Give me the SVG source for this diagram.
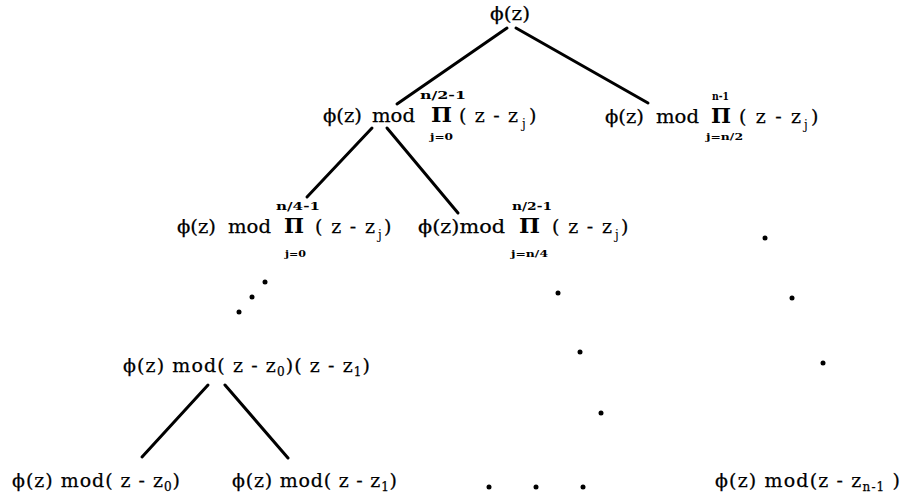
<svg xmlns="http://www.w3.org/2000/svg" width="909" height="500" viewBox="0 0 909 500">
<style>
text{font-family:"DejaVu Serif","Liberation Serif",serif;fill:#000}
.t{font-size:19px;stroke:#000;stroke-width:0.25}
.sup{font-size:11px;font-weight:bold}
.lo{font-size:9.5px;font-weight:bold}
.pi{font-size:21px;font-weight:bold}
.sb{font-size:12px}
.edge{stroke:#000;stroke-width:3;stroke-linecap:round;fill:none}
.dot{fill:#000}
</style>
<rect width="909" height="500" fill="#fff"/>
<g id="connectors">
<line class="edge" x1="507" y1="28" x2="397" y2="104"/>
<line class="edge" x1="516" y1="28" x2="648" y2="103"/>
<line class="edge" x1="372" y1="128" x2="307" y2="197"/>
<line class="edge" x1="387" y1="128" x2="458" y2="213"/>
<line class="edge" x1="208" y1="385" x2="142" y2="457"/>
<line class="edge" x1="225" y1="385" x2="288" y2="458"/>
</g>
<g id="root"><text class="t" x="490" y="20" textLength="40" lengthAdjust="spacingAndGlyphs">ϕ(z)</text></g>
<g id="n1left">
<text class="t" x="323" y="122" textLength="39" lengthAdjust="spacingAndGlyphs">ϕ(z)</text>
<text class="t" x="372" y="122" textLength="43" lengthAdjust="spacingAndGlyphs">mod</text>
<text class="pi" x="431" y="122" textLength="21" lengthAdjust="spacingAndGlyphs">Π</text>
<text class="sup" x="420" y="99" textLength="46" lengthAdjust="spacingAndGlyphs">n/2-1</text>
<text class="lo" x="430" y="140" textLength="23" lengthAdjust="spacingAndGlyphs">j=0</text>
<text class="t" x="459" y="122" textLength="59" lengthAdjust="spacing">( z - z</text>
<text class="sb" x="522" y="128">j</text>
<text class="t" x="529" y="122">)</text>
</g>
<g id="n1right">
<text class="t" x="605" y="123" textLength="39" lengthAdjust="spacingAndGlyphs">ϕ(z)</text>
<text class="t" x="656" y="123" textLength="43" lengthAdjust="spacingAndGlyphs">mod</text>
<text class="pi" x="711" y="123" textLength="20" lengthAdjust="spacingAndGlyphs">Π</text>
<text class="sup" x="712" y="100" textLength="17" lengthAdjust="spacingAndGlyphs">n-1</text>
<text class="lo" x="706" y="140" textLength="37" lengthAdjust="spacingAndGlyphs">j=n/2</text>
<text class="t" x="739" y="123" textLength="62" lengthAdjust="spacing">( z - z</text>
<text class="sb" x="804" y="129">j</text>
<text class="t" x="811" y="123">)</text>
</g>
<g id="n2left">
<text class="t" x="177" y="233" textLength="39" lengthAdjust="spacingAndGlyphs">ϕ(z)</text>
<text class="t" x="228" y="233" textLength="43" lengthAdjust="spacingAndGlyphs">mod</text>
<text class="pi" x="284" y="233" textLength="20" lengthAdjust="spacingAndGlyphs">Π</text>
<text class="sup" x="276" y="210" textLength="44" lengthAdjust="spacingAndGlyphs">n/4-1</text>
<text class="lo" x="285" y="257" textLength="21" lengthAdjust="spacingAndGlyphs">j=0</text>
<text class="t" x="315" y="233" textLength="60" lengthAdjust="spacing">( z - z</text>
<text class="sb" x="378" y="239">j</text>
<text class="t" x="384" y="233">)</text>
</g>
<g id="n2mid">
<text class="t" x="418" y="233" textLength="87" lengthAdjust="spacingAndGlyphs">ϕ(z)mod</text>
<text class="pi" x="519" y="233" textLength="21" lengthAdjust="spacingAndGlyphs">Π</text>
<text class="sup" x="512" y="210" textLength="40" lengthAdjust="spacingAndGlyphs">n/2-1</text>
<text class="lo" x="511" y="257" textLength="37" lengthAdjust="spacingAndGlyphs">j=n/4</text>
<text class="t" x="552" y="233" textLength="60" lengthAdjust="spacing">( z - z</text>
<text class="sb" x="615" y="239">j</text>
<text class="t" x="621" y="233">)</text>
</g>
<g id="n3">
<text class="t" x="123" y="372" textLength="247" lengthAdjust="spacing">ϕ(z) mod( z - z<tspan class="sb" dy="4">0</tspan><tspan dy="-4">)( z - z</tspan><tspan class="sb" dy="4">1</tspan><tspan dy="-4">)</tspan></text>
</g>
<g id="leaf0"><text class="t" x="12" y="487" textLength="168" lengthAdjust="spacing">ϕ(z) mod( z - z<tspan class="sb" dy="4">0</tspan><tspan dy="-4">)</tspan></text></g>
<g id="leaf1"><text class="t" x="232" y="487" textLength="165" lengthAdjust="spacing">ϕ(z) mod( z - z<tspan class="sb" dy="4">1</tspan><tspan dy="-4">)</tspan></text></g>
<g id="leafn"><text class="t" x="715" y="487" textLength="185" lengthAdjust="spacing">ϕ(z) mod(z - z<tspan class="sb" dy="4">n-1</tspan><tspan dy="-4"> )</tspan></text></g>
<g id="dots">
<circle class="dot" cx="265" cy="282" r="2.5"/>
<circle class="dot" cx="252" cy="297" r="2.5"/>
<circle class="dot" cx="239" cy="312" r="2.5"/>
<circle class="dot" cx="558" cy="293" r="2.5"/>
<circle class="dot" cx="580" cy="352" r="2.5"/>
<circle class="dot" cx="601" cy="413" r="2.5"/>
<circle class="dot" cx="765" cy="238" r="2.5"/>
<circle class="dot" cx="792" cy="298" r="2.5"/>
<circle class="dot" cx="823" cy="363" r="2.5"/>
<circle class="dot" cx="489" cy="487" r="2.5"/>
<circle class="dot" cx="536" cy="487" r="2.5"/>
<circle class="dot" cx="583" cy="487" r="2.5"/>
</g>
</svg>
